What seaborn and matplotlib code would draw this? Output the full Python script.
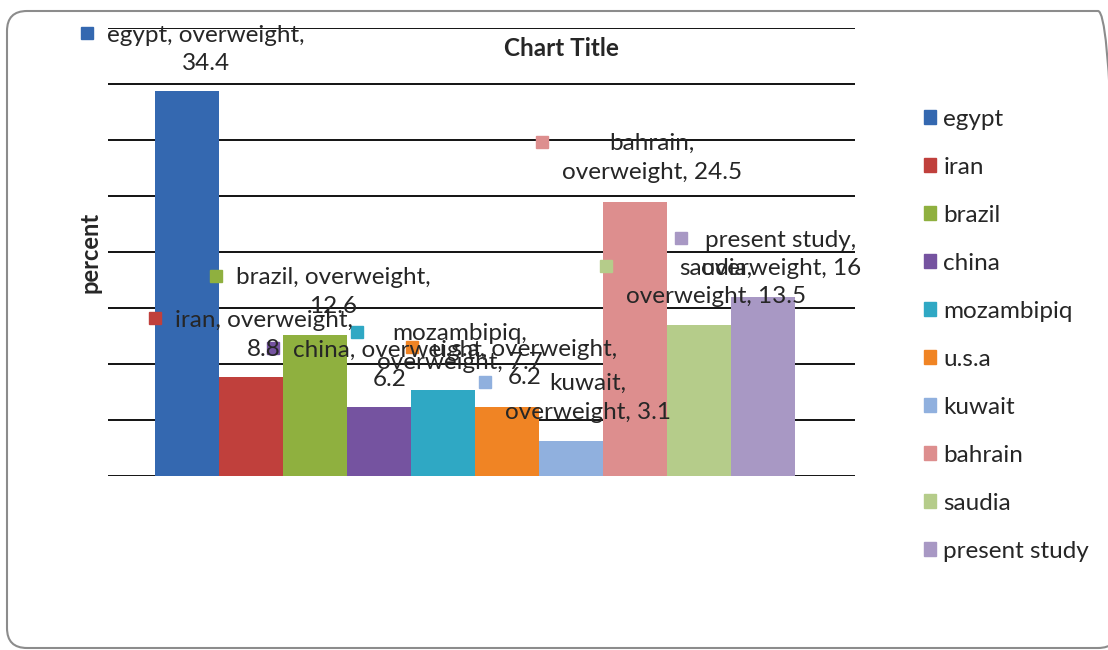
import matplotlib
matplotlib.use("Agg")
import matplotlib.pyplot as plt
import matplotlib.patches as mpatches
import matplotlib.transforms as mtransforms
import numpy as np
import pandas as pd
import seaborn as sns

# chart data
countries = ["egypt", "iran", "brazil", "china", "mozambipiq",
             "u.s.a", "kuwait", "bahrain", "saudia", "present study"]
overweight = [34.4, 8.8, 12.6, 6.2, 7.7, 6.2, 3.1, 24.5, 13.5, 16]
category = "overweight"

colors = ["#3468b0", "#c0403c", "#8fb03f", "#7553a0", "#2fa8c4",
          "#f08424", "#90b0de", "#dd8e8e", "#b5cc8a", "#a898c4"]

# where excel dropped each data label (pixel centre x, first line y, second line y)
label_pos = [(206, 33, 66), (264, 318, 352), (333, 276, 308), (390, 348, 382),
             (460, 332, 364), (525, 347, 380), (588, 382, 414), (652, 142, 174),
             (716, 266, 299), (781, 238, 271)]
# True -> label wrapped right after the country name
wrap_after_name = [False, False, False, False, True, False, True, True, True, True]

df = pd.DataFrame({"country": countries, "value": overweight, "cat": category})

sns.set_theme(style="white")
plt.rcParams["font.family"] = ["Lato", "DejaVu Sans"]

W, H = 1108, 650
fig = plt.figure(figsize=(W / 100, H / 100), dpi=100)
ax = fig.add_axes([108 / W, 1 - 476 / H, (855 - 108) / W, (476 - 28) / H])

sns.barplot(data=df, x="cat", y="value", hue="country", hue_order=countries,
            palette=colors, width=0.857, gap=0, saturation=1, ax=ax,
            edgecolor="none", legend=False)

ax.set_xlim(-0.491, 0.509)
ax.set_ylim(0, 40)
ax.set_yticks(np.arange(0, 41, 5))
ax.set_yticklabels([])
ax.set_xticks([])
ax.set_xlabel("")
ax.set_ylabel("")
ax.grid(axis="y", color="black", linewidth=1.3)
ax.set_axisbelow(True)
for s in ax.spines.values():
    s.set_visible(False)

fs = 17.5
fig.text(561 / W, 1 - 48 / H, "Chart Title", ha="center", va="center",
         fontsize=17.5, fontweight="bold")
fig.text(90 / W, 1 - 252 / H, "percent", ha="center", va="center",
         rotation=90, fontsize=17, fontweight="bold")

# data labels with legend keys
fig.canvas.draw()
r = fig.canvas.get_renderer()
key = 12
for name, v, c, (cx, y1, y2), wrap in zip(countries, overweight, colors,
                                          label_pos, wrap_after_name):
    if wrap:
        txt = f"{name},\n{category}, {v:g}"
    else:
        txt = f"{name}, {category},\n{v:g}"
    t = fig.text(cx / W, 1 - (y1 + y2) / 2 / H, txt, ha="center", va="center",
                 fontsize=fs, linespacing=1.45, zorder=5)
    bb = t.get_window_extent(renderer=r)
    kx = bb.x0 - 20
    ky = H - y1
    fig.patches.append(mpatches.Rectangle(((kx - key / 2) / W, (ky - key / 2) / H),
                                          key / W, key / H, color=c,
                                          transform=fig.transFigure, zorder=4))

# legend on the right
handles = [mpatches.Patch(color=c, label=n) for n, c in zip(countries, colors)]
fig.legend(handles=handles, loc="upper left", bbox_to_anchor=(902 / W, 1 - 87 / H),
           frameon=False, fontsize=fs, handlelength=0.5, handleheight=0.5,
           handletextpad=0.3, labelspacing=1.11)

# rounded outer frame (runs off the right edge), drawn in pixels
frame = mpatches.FancyBboxPatch((7, 2), 1118 - 7, H - 11 - 2,
                                boxstyle="round,pad=0,rounding_size=20",
                                transform=mtransforms.IdentityTransform(),
                                fill=False, edgecolor="#8c8c8c", linewidth=1.5)
fig.patches.append(frame)

fig.savefig("out.png", dpi=100)
